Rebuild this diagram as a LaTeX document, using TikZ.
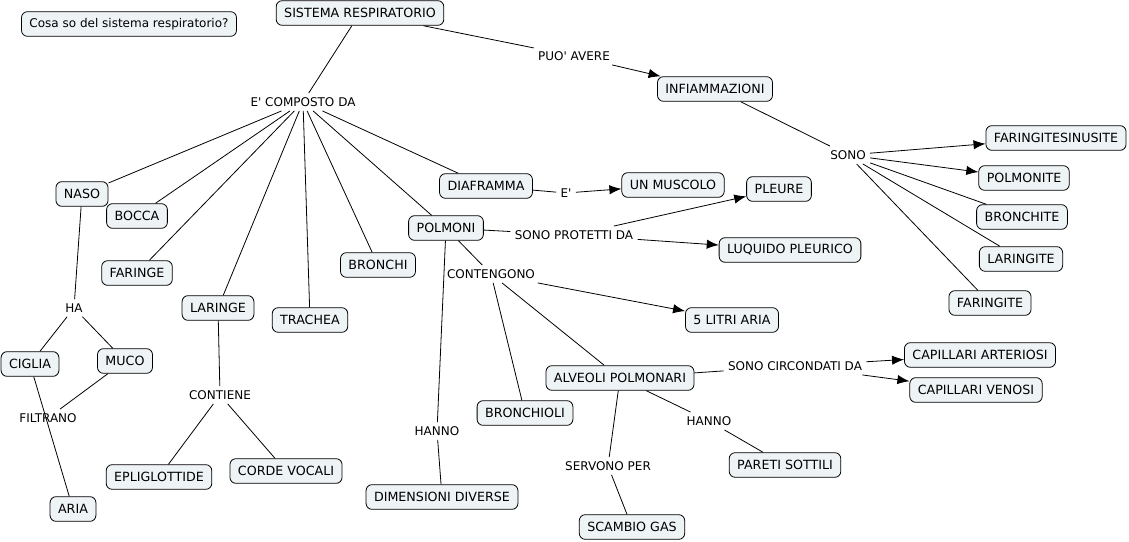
\documentclass[tikz,border=0pt]{standalone}
\usepackage{fontspec}
\setmainfont{DejaVu Sans}
\usetikzlibrary{arrows.meta}
\definecolor{boxfill}{HTML}{EEF3F5}

\begin{document}
\begin{tikzpicture}[x=0.75pt,y=-0.75pt,font=\fontsize{9}{11}\selectfont,line width=0.6pt]
        \tikzstyle{box} = [rectangle, rounded corners=4.5pt, minimum height=18.5pt, inner xsep=6pt, text centered, draw=black, fill=boxfill, font=\fontsize{9.5}{11}\selectfont]
        \tikzstyle{link} = [text centered, inner sep=3pt]
        \tikzstyle{arr} = [-{Latex[length=9pt,width=7pt]}]

        \useasboundingbox (0,0) rectangle (1129,542);

        % concepts
        \node (question) [box, font=\fontsize{9}{11}\selectfont] at (129,24) {Cosa so del sistema respiratorio?};
        \node (sistema) [box] at (360,13) {SISTEMA RESPIRATORIO};
        \node (infiamm) [box] at (715,89) {INFIAMMAZIONI};
        \node (farsinusite) [box] at (1056,138) {FARINGITESINUSITE};
        \node (polmonite) [box] at (1024,178) {POLMONITE};
        \node (bronchite) [box] at (1022,217) {BRONCHITE};
        \node (laringite) [box] at (1021,259) {LARINGITE};
        \node (faringite) [box] at (990,303) {FARINGITE};
        \node (naso) [box] at (82,194) {NASO};
        \node (bocca) [box] at (137,216) {BOCCA};
        \node (faringe) [box] at (137,273) {FARINGE};
        \node (laringe) [box] at (218,308) {LARINGE};
        \node (trachea) [box] at (310,320) {TRACHEA};
        \node (bronchi) [box] at (378,265) {BRONCHI};
        \node (diaframma) [box] at (486,186) {DIAFRAMMA};
        \node (polmoni) [box] at (446,228) {POLMONI};
        \node (muscolo) [box] at (673,185) {UN MUSCOLO};
        \node (pleure) [box] at (779,189) {PLEURE};
        \node (liquido) [box] at (790,250) {LUQUIDO PLEURICO};
        \node (litri) [box] at (732,320) {5 LITRI ARIA};
        \node (alveoli) [box] at (620,378) {ALVEOLI POLMONARI};
        \node (bronchioli) [box] at (525,413) {BRONCHIOLI};
        \node (caparteriosi) [box] at (980,355) {CAPILLARI ARTERIOSI};
        \node (capvenosi) [box] at (976,390) {CAPILLARI VENOSI};
        \node (pareti) [box] at (785,465) {PARETI SOTTILI};
        \node (scambio) [box] at (632,527) {SCAMBIO GAS};
        \node (dimensioni) [box] at (442,497) {DIMENSIONI DIVERSE};
        \node (ciglia) [box] at (30,364) {CIGLIA};
        \node (muco) [box] at (125,361) {MUCO};
        \node (aria) [box] at (73,509) {ARIA};
        \node (epiglottide) [box] at (159,477) {EPLIGLOTTIDE};
        \node (corde) [box] at (286,471) {CORDE VOCALI};

        % linking phrases
        \node (composto) [link] at (303,102) {E\textquotesingle{} COMPOSTO DA};
        \node (puoavere) [link] at (574,56) {PUO\textquotesingle{} AVERE};
        \node (sono) [link] at (848,155) {SONO};
        \node (e) [link] at (566,193) {E\textquotesingle};
        \node (protetti) [link] at (574,235) {SONO PROTETTI DA};
        \node (contengono) [link] at (491,274) {CONTENGONO};
        \node (circondati) [link] at (795,366) {SONO CIRCONDATI DA};
        \node (hannob) [link] at (709,421) {HANNO};
        \node (servono) [link] at (608,466) {SERVONO PER};
        \node (hannoa) [link] at (437,431) {HANNO};
        \node (ha) [link] at (74,308) {HA};
        \node (filtrano) [link] at (48,418) {FILTRANO};
        \node (contiene) [link] at (220,395) {CONTIENE};

        % connections
        \draw (sistema) -- (composto);
        \foreach \part in {naso,bocca,faringe,laringe,trachea,bronchi,polmoni,diaframma}
            \draw (composto) -- (\part);
        \draw (sistema) -- (puoavere);
        \draw [arr] (puoavere) -- (infiamm);
        \draw (infiamm) -- (sono);
        \draw [arr] (sono) -- (farsinusite);
        \draw [arr] (sono) -- (polmonite);
        \draw (sono) -- (bronchite);
        \draw (sono) -- (laringite);
        \draw (sono) -- (faringite);
        \draw (diaframma) -- (e);
        \draw [arr] (e) -- (muscolo);
        \draw (polmoni) -- (protetti);
        \draw [arr] (protetti) -- (pleure);
        \draw [arr] (protetti) -- (liquido);
        \draw (polmoni) -- (contengono);
        \draw [arr] (contengono) -- (litri);
        \draw (contengono) -- (bronchioli);
        \draw (contengono) -- (alveoli);
        \draw (polmoni) -- (hannoa);
        \draw (hannoa) -- (dimensioni);
        \draw (alveoli) -- (circondati);
        \draw [arr] (circondati) -- (caparteriosi);
        \draw [arr] (circondati) -- (capvenosi);
        \draw (alveoli) -- (hannob);
        \draw (hannob) -- (pareti);
        \draw (alveoli) -- (servono);
        \draw (servono) -- (scambio);
        \draw (naso) -- (ha);
        \draw (ha) -- (ciglia);
        \draw (ha) -- (muco);
        \draw (muco) -- (filtrano);
        \draw (ciglia) -- (aria);
        \draw (laringe) -- (contiene);
        \draw (contiene) -- (epiglottide);
        \draw (contiene) -- (corde);
    \end{tikzpicture}
\end{document}
